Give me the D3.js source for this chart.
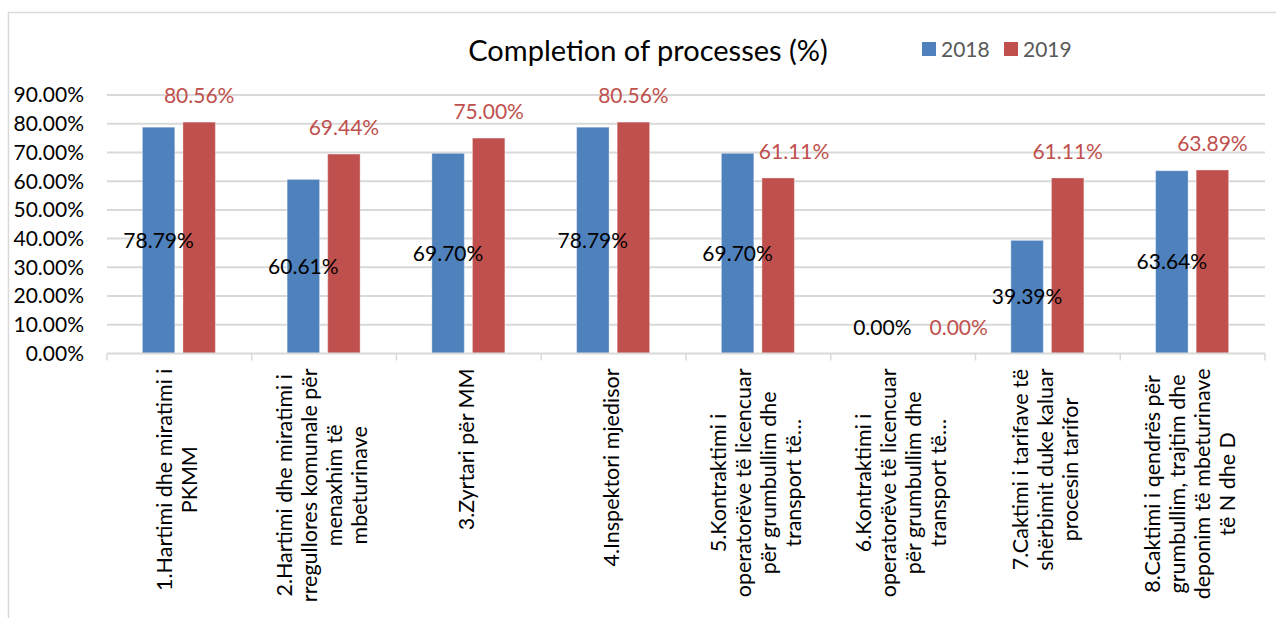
<!DOCTYPE html>
<html>
<head>
<meta charset="utf-8">
<script src="https://cdn.jsdelivr.net/npm/d3@7"></script>
<style>
  html, body { margin: 0; padding: 0; background: #fff; }
  svg { display: block; }
  text { font-family: Lato, "Noto Sans", sans-serif; }
</style>
</head>
<body>
<svg id="chart" width="1276" height="618"></svg>
<script>
// ---- data ----
const title = "Completion of processes (%)";
const seriesNames = ["2018", "2019"];
const categoryLines = [
  ["1.Hartimi dhe miratimi i", "PKMM"],
  ["2.Hartimi dhe miratimi i", "rregullores komunale për", "menaxhim të", "mbeturinave"],
  ["3.Zyrtari për MM"],
  ["4.Inspektori mjedisor"],
  ["5.Kontraktimi i", "operatorëve të licencuar", "për grumbullim dhe", "transport të…"],
  ["6.Kontraktimi i", "operatorëve të licencuar", "për grumbullim dhe", "transport të…"],
  ["7.Caktimi i tarifave të", "shërbimit duke kaluar", "procesin tarifor"],
  ["8.Caktimi i qendrës për", "grumbullim, trajtim dhe", "deponim të mbeturinave", "të N dhe D"]
];
const values2018 = [78.79, 60.61, 69.70, 78.79, 69.70, 0.00, 39.39, 63.64];
const values2019 = [80.56, 69.44, 75.00, 80.56, 61.11, 0.00, 61.11, 63.89];
const yTicks = [0, 10, 20, 30, 40, 50, 60, 70, 80, 90];

// ---- layout ----
const colors = {"2018": "#4F81BD", "2019": "#C0504D"};
const labelColors = {"2018": "#000000", "2019": "#C0504D"};
const svg = d3.select("#chart");
const plot = {left: 107, right: 1265, top: 95, bottom: 353.5};
const fs = 21;

const catIds = categoryLines.map((d, i) => i);
const x0 = d3.scaleBand().domain(catIds).range([plot.left, plot.right]).padding(0);
const bw = x0.bandwidth();
const x1 = d3.scaleBand().domain(seriesNames)
  .range([bw / 2 - 37, bw / 2 + 36]).paddingInner(0.2);
const y = d3.scaleLinear().domain([0, 90]).range([plot.bottom, plot.top]);

// frame
svg.append("path")
  .attr("d", "M8.5,618 L8.5,12.5 L1276,12.5")
  .attr("fill", "none").attr("stroke", "#D9D9D9").attr("stroke-width", 1.5);

// gridlines
svg.append("g").selectAll("line").data(yTicks.filter(t => t > 0)).join("line")
  .attr("x1", plot.left).attr("x2", plot.right)
  .attr("y1", d => y(d)).attr("y2", d => y(d))
  .attr("stroke", "#D9D9D9").attr("stroke-width", 2);

// y tick labels
svg.append("g").selectAll("text").data(yTicks).join("text")
  .attr("x", 84).attr("y", d => y(d)).attr("dy", "0.35em")
  .attr("text-anchor", "end").attr("font-size", fs).attr("fill", "#000")
  .text(d => d.toFixed(2) + "%");

// bars
const rows = catIds.map(i => ({i, vals: [
  {s: "2018", v: values2018[i]}, {s: "2019", v: values2019[i]}]}));
const groups = svg.append("g").selectAll("g").data(rows).join("g")
  .attr("transform", d => `translate(${x0(d.i)},0)`);
groups.selectAll("rect").data(d => d.vals).join("rect")
  .attr("x", d => x1(d.s)).attr("width", x1.bandwidth())
  .attr("y", d => y(d.v)).attr("height", d => y(0) - y(d.v))
  .attr("fill", d => colors[d.s])
  .attr("stroke", "#ffffff").attr("stroke-opacity", 0.35).attr("stroke-width", 1);

// x axis baseline + ticks
svg.append("line").attr("x1", plot.left).attr("x2", plot.right)
  .attr("y1", plot.bottom).attr("y2", plot.bottom)
  .attr("stroke", "#D9D9D9").attr("stroke-width", 2);
const boundaries = catIds.map(i => x0(i)).concat([plot.right]);
svg.append("g").selectAll("line").data(boundaries).join("line")
  .attr("x1", d => d).attr("x2", d => d)
  .attr("y1", plot.bottom).attr("y2", plot.bottom + 7)
  .attr("stroke", "#D9D9D9").attr("stroke-width", 1.5);

// data labels
const lblY = d => (d.s === "2018" && d.v > 0) ? (y(d.v) + y(0)) / 2 : y(d.v) - 26;
groups.each(function(row) {
  const g = d3.select(this);
  const blue = row.vals[0], red = row.vals[1];
  const tBlue = g.append("text")
    .attr("x", x1("2018") + x1.bandwidth() / 2).attr("y", lblY(blue))
    .attr("dy", "0.35em").attr("text-anchor", "middle")
    .attr("font-size", fs).attr("fill", labelColors["2018"])
    .text(blue.v.toFixed(2) + "%");
  const tRed = g.append("text")
    .attr("x", x1("2019") + x1.bandwidth() / 2).attr("y", lblY(red))
    .attr("dy", "0.35em").attr("text-anchor", "middle")
    .attr("font-size", fs).attr("fill", labelColors["2019"])
    .text(red.v.toFixed(2) + "%");
  // nudge the 2019 label right when it would collide with the 2018 bar or label
  const rb = tRed.node().getBBox();
  const bb = tBlue.node().getBBox();
  const blueRight = x1("2018") + x1.bandwidth();
  let shift = 0;
  if (rb.y < bb.y + bb.height && rb.y + rb.height > bb.y && rb.x < bb.x + bb.width) {
    shift = bb.x + bb.width + 18 - rb.x;
  } else if (rb.y + rb.height > y(blue.v) && rb.x < blueRight) {
    shift = blueRight + 5 - rb.x;
  }
  tRed.attr("x", +tRed.attr("x") + shift);
});

// category labels (rotated, multi-line, centered)
const lineH = 25;
const catG = svg.append("g").selectAll("g").data(rows).join("g")
  .attr("transform", d => `translate(${x0(d.i) + bw / 2 - 3},${plot.bottom + 15}) rotate(-90)`);
catG.each(function(d) {
  const g = d3.select(this);
  const lines = categoryLines[d.i];
  const k = lines.length;
  const ts = g.selectAll("text").data(lines).join("text")
    .attr("font-size", 21.5).attr("fill", "#000")
    .attr("text-anchor", "middle").attr("dominant-baseline", "central")
    .attr("y", (t, j) => (j - (k - 1) / 2) * lineH)
    .text(t => t);
  let maxLen = 0;
  ts.each(function() { maxLen = Math.max(maxLen, this.getComputedTextLength()); });
  ts.attr("x", -maxLen / 2);
});

// title
svg.append("text").attr("x", 648).attr("y", 61).attr("text-anchor", "middle")
  .attr("font-size", 29).attr("fill", "#000").text(title);

// legend
const leg = svg.append("g").selectAll("g").data(seriesNames).join("g")
  .attr("transform", (d, i) => `translate(${922 + i * 82},42)`);
leg.append("rect").attr("width", 14).attr("height", 14).attr("fill", d => colors[d]);
leg.append("text").attr("x", 19).attr("y", 7).attr("dy", "0.36em")
  .attr("font-size", fs).attr("fill", "#595959").text(d => d);
</script>
</body>
</html>
